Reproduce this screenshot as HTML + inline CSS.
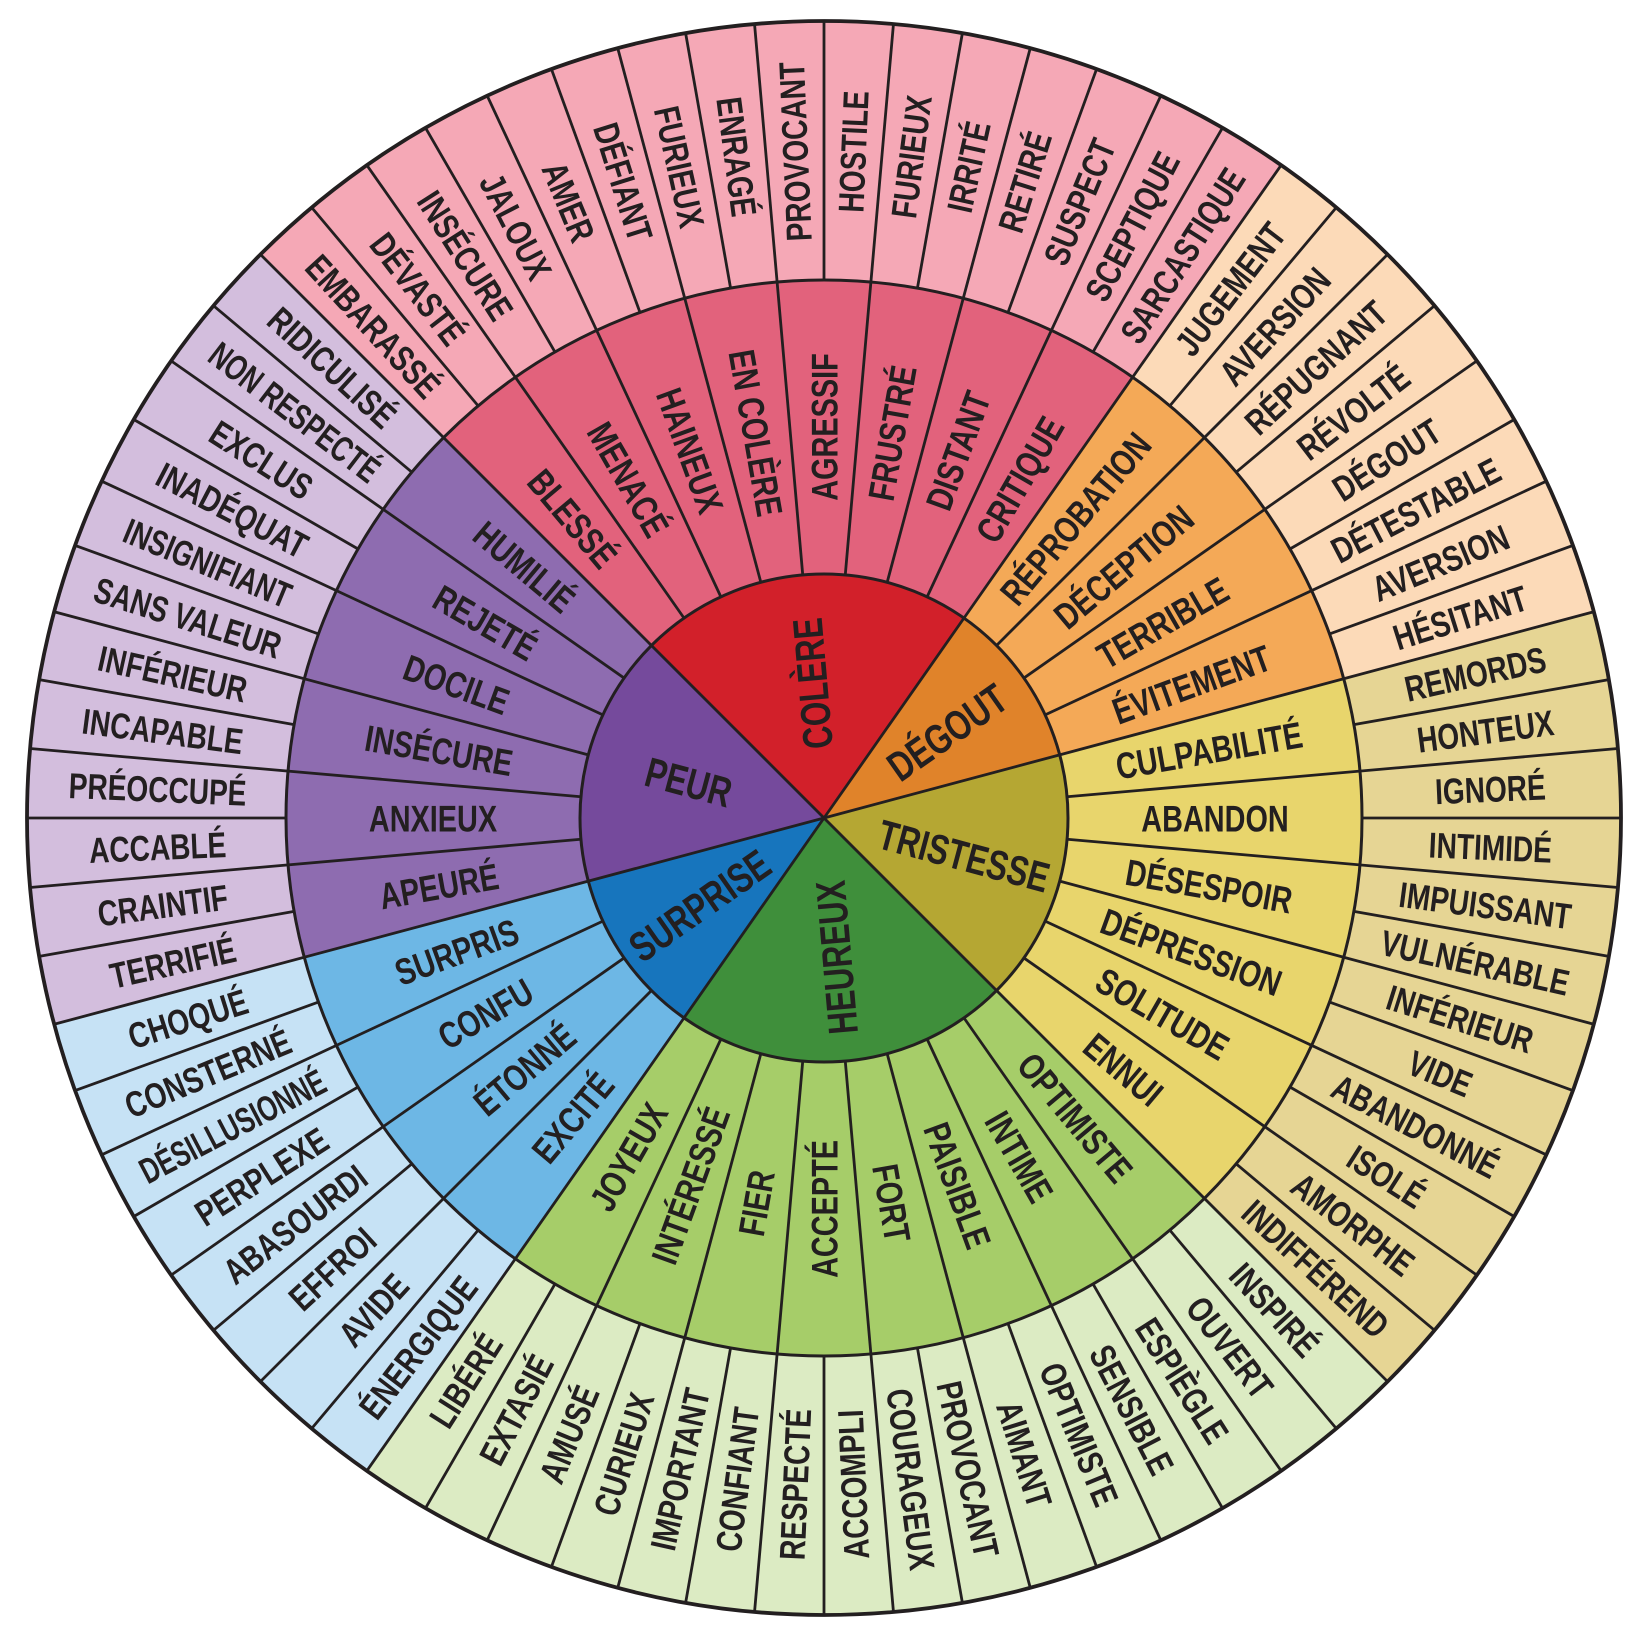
<!DOCTYPE html>
<html><head><meta charset="utf-8"><style>
html,body{margin:0;padding:0;background:#fff;overflow:hidden;width:1651px;height:1645px;}
svg{display:block;}
text{font-family:"Liberation Sans",sans-serif;font-weight:bold;fill:#231f20;text-anchor:middle;}
.o{font-size:36px;}
.m{font-size:37px;}
.i{font-size:42px;}
</style></head><body>
<svg width="1651" height="1645" viewBox="0 0 1651 1645" xmlns="http://www.w3.org/2000/svg">
<g transform="translate(824,818)">
<g fill="none" stroke-width="260">
<circle r="667.5" stroke="#f5a8b6" stroke-dasharray="933 5000" transform="rotate(-135)"/>
<circle r="667.5" stroke="#fcdab8" stroke-dasharray="467 5000" transform="rotate(-55)"/>
<circle r="667.5" stroke="#e6d594" stroke-dasharray="700 5000" transform="rotate(-15)"/>
<circle r="667.5" stroke="#dcebc3" stroke-dasharray="933 5000" transform="rotate(45)"/>
<circle r="667.5" stroke="#c6e2f5" stroke-dasharray="467 5000" transform="rotate(125)"/>
<circle r="667.5" stroke="#d3bedd" stroke-dasharray="700 5000" transform="rotate(165)"/>
</g>
<g fill="none" stroke-width="295">
<circle r="391" stroke="#e2627c" stroke-dasharray="547 3000" transform="rotate(-135)"/>
<circle r="391" stroke="#f4a957" stroke-dasharray="274 3000" transform="rotate(-55)"/>
<circle r="391" stroke="#e8d56c" stroke-dasharray="410 3000" transform="rotate(-15)"/>
<circle r="391" stroke="#a6cd69" stroke-dasharray="547 3000" transform="rotate(45)"/>
<circle r="391" stroke="#6db7e5" stroke-dasharray="274 3000" transform="rotate(125)"/>
<circle r="391" stroke="#8e6cb0" stroke-dasharray="410 3000" transform="rotate(165)"/>
</g>
<g fill="none" stroke-width="245">
<circle r="122" stroke="#d2202a" stroke-dasharray="171 1000" transform="rotate(-135)"/>
<circle r="122" stroke="#e0832a" stroke-dasharray="86 1000" transform="rotate(-55)"/>
<circle r="122" stroke="#b5a733" stroke-dasharray="128 1000" transform="rotate(-15)"/>
<circle r="122" stroke="#3f8f3b" stroke-dasharray="171 1000" transform="rotate(45)"/>
<circle r="122" stroke="#1775bd" stroke-dasharray="86 1000" transform="rotate(125)"/>
<circle r="122" stroke="#754a9c" stroke-dasharray="128 1000" transform="rotate(165)"/>
</g>
<g stroke="#231f20" stroke-width="2.8">
<line x1="0" x2="244" transform="rotate(-135)"/><line x1="0" x2="244" transform="rotate(-55)"/>
<line x1="0" x2="244" transform="rotate(-15)"/><line x1="0" x2="244" transform="rotate(45)"/>
<line x1="0" x2="244" transform="rotate(125)"/><line x1="0" x2="244" transform="rotate(165)"/>
<line x1="244" x2="797" transform="rotate(-135)"/><line x1="244" x2="797" transform="rotate(-125)"/>
<line x1="244" x2="797" transform="rotate(-115)"/><line x1="244" x2="797" transform="rotate(-105)"/>
<line x1="244" x2="797" transform="rotate(-95)"/><line x1="244" x2="797" transform="rotate(-85)"/>
<line x1="244" x2="797" transform="rotate(-75)"/><line x1="244" x2="797" transform="rotate(-65)"/>
<line x1="244" x2="797" transform="rotate(-55)"/><line x1="244" x2="797" transform="rotate(-45)"/>
<line x1="244" x2="797" transform="rotate(-35)"/><line x1="244" x2="797" transform="rotate(-25)"/>
<line x1="244" x2="797" transform="rotate(-15)"/><line x1="244" x2="797" transform="rotate(-5)"/>
<line x1="244" x2="797" transform="rotate(5)"/><line x1="244" x2="797" transform="rotate(15)"/>
<line x1="244" x2="797" transform="rotate(25)"/><line x1="244" x2="797" transform="rotate(35)"/>
<line x1="244" x2="797" transform="rotate(45)"/><line x1="244" x2="797" transform="rotate(55)"/>
<line x1="244" x2="797" transform="rotate(65)"/><line x1="244" x2="797" transform="rotate(75)"/>
<line x1="244" x2="797" transform="rotate(85)"/><line x1="244" x2="797" transform="rotate(95)"/>
<line x1="244" x2="797" transform="rotate(105)"/><line x1="244" x2="797" transform="rotate(115)"/>
<line x1="244" x2="797" transform="rotate(125)"/><line x1="244" x2="797" transform="rotate(135)"/>
<line x1="244" x2="797" transform="rotate(145)"/><line x1="244" x2="797" transform="rotate(155)"/>
<line x1="244" x2="797" transform="rotate(165)"/><line x1="244" x2="797" transform="rotate(175)"/>
<line x1="244" x2="797" transform="rotate(185)"/><line x1="244" x2="797" transform="rotate(195)"/>
<line x1="244" x2="797" transform="rotate(205)"/><line x1="244" x2="797" transform="rotate(215)"/>
<line x1="538" x2="797" transform="rotate(-130)"/><line x1="538" x2="797" transform="rotate(-120)"/>
<line x1="538" x2="797" transform="rotate(-110)"/><line x1="538" x2="797" transform="rotate(-100)"/>
<line x1="538" x2="797" transform="rotate(-90)"/><line x1="538" x2="797" transform="rotate(-80)"/>
<line x1="538" x2="797" transform="rotate(-70)"/><line x1="538" x2="797" transform="rotate(-60)"/>
<line x1="538" x2="797" transform="rotate(-50)"/><line x1="538" x2="797" transform="rotate(-40)"/>
<line x1="538" x2="797" transform="rotate(-30)"/><line x1="538" x2="797" transform="rotate(-20)"/>
<line x1="538" x2="797" transform="rotate(-10)"/><line x1="538" x2="797" transform="rotate(0)"/>
<line x1="538" x2="797" transform="rotate(10)"/><line x1="538" x2="797" transform="rotate(20)"/>
<line x1="538" x2="797" transform="rotate(30)"/><line x1="538" x2="797" transform="rotate(40)"/>
<line x1="538" x2="797" transform="rotate(50)"/><line x1="538" x2="797" transform="rotate(60)"/>
<line x1="538" x2="797" transform="rotate(70)"/><line x1="538" x2="797" transform="rotate(80)"/>
<line x1="538" x2="797" transform="rotate(90)"/><line x1="538" x2="797" transform="rotate(100)"/>
<line x1="538" x2="797" transform="rotate(110)"/><line x1="538" x2="797" transform="rotate(120)"/>
<line x1="538" x2="797" transform="rotate(130)"/><line x1="538" x2="797" transform="rotate(140)"/>
<line x1="538" x2="797" transform="rotate(150)"/><line x1="538" x2="797" transform="rotate(160)"/>
<line x1="538" x2="797" transform="rotate(170)"/><line x1="538" x2="797" transform="rotate(180)"/>
<line x1="538" x2="797" transform="rotate(190)"/><line x1="538" x2="797" transform="rotate(200)"/>
<line x1="538" x2="797" transform="rotate(210)"/><line x1="538" x2="797" transform="rotate(220)"/>
</g>
<g fill="none" stroke="#231f20">
<circle r="244" stroke-width="3"/>
<circle r="538" stroke-width="3"/>
<circle r="797" stroke-width="3.8"/>
</g>
<g class="i">
<text dy=".36em" transform="rotate(-95) translate(135,0) scale(.75,1)">COLÈRE</text>
<text dy=".36em" transform="rotate(-35) translate(150,0) scale(.75,1)">DÉGOUT</text>
<text dy=".36em" transform="rotate(15) translate(145,0) scale(.75,1)">TRISTESSE</text>
<text dy=".36em" transform="rotate(85) translate(140,0) rotate(180) scale(.75,1)">HEUREUX</text>
<text dy=".36em" transform="rotate(145) translate(152,0) rotate(180) scale(.75,1)">SURPRISE</text>
<text dy=".36em" transform="rotate(195) translate(140,0) rotate(180) scale(.75,1)">PEUR</text>
</g>
<g class="m">
<text dy=".36em" transform="rotate(-130) translate(391,0) rotate(180) scale(.78,1)">BLESSÉ</text>
<text dy=".36em" transform="rotate(-120) translate(391,0) rotate(180) scale(.78,1)">MENACÉ</text>
<text dy=".36em" transform="rotate(-110) translate(391,0) rotate(180) scale(.78,1)">HAINEUX</text>
<text dy=".36em" transform="rotate(-100) translate(391,0) rotate(180) scale(.78,1)">EN COLÈRE</text>
<text dy=".36em" transform="rotate(-90) translate(391,0) scale(.78,1)">AGRESSIF</text>
<text dy=".36em" transform="rotate(-80) translate(391,0) scale(.78,1)">FRUSTRÉ</text>
<text dy=".36em" transform="rotate(-70) translate(391,0) scale(.78,1)">DISTANT</text>
<text dy=".36em" transform="rotate(-60) translate(391,0) scale(.78,1)">CRITIQUE</text>
<text dy=".36em" transform="rotate(-50) translate(391,0) scale(.78,1)">RÉPROBATION</text>
<text dy=".36em" transform="rotate(-40) translate(391,0) scale(.78,1)">DÉCEPTION</text>
<text dy=".36em" transform="rotate(-30) translate(391,0) scale(.78,1)">TERRIBLE</text>
<text dy=".36em" transform="rotate(-20) translate(391,0) scale(.78,1)">ÉVITEMENT</text>
<text dy=".36em" transform="rotate(-10) translate(391,0) scale(.78,1)">CULPABILITÉ</text>
<text dy=".36em" transform="rotate(0) translate(391,0) scale(.78,1)">ABANDON</text>
<text dy=".36em" transform="rotate(10) translate(391,0) scale(.78,1)">DÉSESPOIR</text>
<text dy=".36em" transform="rotate(20) translate(391,0) scale(.78,1)">DÉPRESSION</text>
<text dy=".36em" transform="rotate(30) translate(391,0) scale(.78,1)">SOLITUDE</text>
<text dy=".36em" transform="rotate(40) translate(391,0) scale(.78,1)">ENNUI</text>
<text dy=".36em" transform="rotate(50) translate(391,0) scale(.78,1)">OPTIMISTE</text>
<text dy=".36em" transform="rotate(60) translate(391,0) scale(.78,1)">INTIME</text>
<text dy=".36em" transform="rotate(70) translate(391,0) scale(.78,1)">PAISIBLE</text>
<text dy=".36em" transform="rotate(80) translate(391,0) scale(.78,1)">FORT</text>
<text dy=".36em" transform="rotate(90) translate(391,0) rotate(180) scale(.78,1)">ACCEPTÉ</text>
<text dy=".36em" transform="rotate(100) translate(391,0) rotate(180) scale(.78,1)">FIER</text>
<text dy=".36em" transform="rotate(110) translate(391,0) rotate(180) scale(.78,1)">INTÉRESSÉ</text>
<text dy=".36em" transform="rotate(120) translate(391,0) rotate(180) scale(.78,1)">JOYEUX</text>
<text dy=".36em" transform="rotate(130) translate(391,0) rotate(180) scale(.78,1)">EXCITÉ</text>
<text dy=".36em" transform="rotate(140) translate(391,0) rotate(180) scale(.78,1)">ÉTONNÉ</text>
<text dy=".36em" transform="rotate(150) translate(391,0) rotate(180) scale(.78,1)">CONFU</text>
<text dy=".36em" transform="rotate(160) translate(391,0) rotate(180) scale(.78,1)">SURPRIS</text>
<text dy=".36em" transform="rotate(170) translate(391,0) rotate(180) scale(.78,1)">APEURÉ</text>
<text dy=".36em" transform="rotate(180) translate(391,0) rotate(180) scale(.78,1)">ANXIEUX</text>
<text dy=".36em" transform="rotate(190) translate(391,0) rotate(180) scale(.78,1)">INSÉCURE</text>
<text dy=".36em" transform="rotate(200) translate(391,0) rotate(180) scale(.78,1)">DOCILE</text>
<text dy=".36em" transform="rotate(210) translate(391,0) rotate(180) scale(.78,1)">REJETÉ</text>
<text dy=".36em" transform="rotate(220) translate(391,0) rotate(180) scale(.78,1)">HUMILIÉ</text>
</g>
<g class="o">
<text dy=".36em" transform="rotate(-132.5) translate(667,0) rotate(180) scale(.78,1)">EMBARASSÉ</text>
<text dy=".36em" transform="rotate(-127.5) translate(667,0) rotate(180) scale(.78,1)">DÉVASTÉ</text>
<text dy=".36em" transform="rotate(-122.5) translate(667,0) rotate(180) scale(.78,1)">INSÉCURE</text>
<text dy=".36em" transform="rotate(-117.5) translate(667,0) rotate(180) scale(.78,1)">JALOUX</text>
<text dy=".36em" transform="rotate(-112.5) translate(667,0) rotate(180) scale(.78,1)">AMER</text>
<text dy=".36em" transform="rotate(-107.5) translate(667,0) rotate(180) scale(.78,1)">DÉFIANT</text>
<text dy=".36em" transform="rotate(-102.5) translate(667,0) rotate(180) scale(.78,1)">FURIEUX</text>
<text dy=".36em" transform="rotate(-97.5) translate(667,0) rotate(180) scale(.78,1)">ENRAGÉ</text>
<text dy=".36em" transform="rotate(-92.5) translate(667,0) scale(.78,1)">PROVOCANT</text>
<text dy=".36em" transform="rotate(-87.5) translate(667,0) scale(.78,1)">HOSTILE</text>
<text dy=".36em" transform="rotate(-82.5) translate(667,0) scale(.78,1)">FURIEUX</text>
<text dy=".36em" transform="rotate(-77.5) translate(667,0) scale(.78,1)">IRRITÉ</text>
<text dy=".36em" transform="rotate(-72.5) translate(667,0) scale(.78,1)">RETIRÉ</text>
<text dy=".36em" transform="rotate(-67.5) translate(667,0) scale(.78,1)">SUSPECT</text>
<text dy=".36em" transform="rotate(-62.5) translate(667,0) scale(.78,1)">SCEPTIQUE</text>
<text dy=".36em" transform="rotate(-57.5) translate(667,0) scale(.76,1)">SARCASTIQUE</text>
<text dy=".36em" transform="rotate(-52.5) translate(667,0) scale(.78,1)">JUGEMENT</text>
<text dy=".36em" transform="rotate(-47.5) translate(667,0) scale(.78,1)">AVERSION</text>
<text dy=".36em" transform="rotate(-42.5) translate(667,0) scale(.78,1)">RÉPUGNANT</text>
<text dy=".36em" transform="rotate(-37.5) translate(667,0) scale(.78,1)">RÉVOLTÉ</text>
<text dy=".36em" transform="rotate(-32.5) translate(667,0) scale(.78,1)">DÉGOUT</text>
<text dy=".36em" transform="rotate(-27.5) translate(667,0) scale(.78,1)">DÉTESTABLE</text>
<text dy=".36em" transform="rotate(-22.5) translate(667,0) scale(.78,1)">AVERSION</text>
<text dy=".36em" transform="rotate(-17.5) translate(667,0) scale(.78,1)">HÉSITANT</text>
<text dy=".36em" transform="rotate(-12.5) translate(667,0) scale(.78,1)">REMORDS</text>
<text dy=".36em" transform="rotate(-7.5) translate(667,0) scale(.78,1)">HONTEUX</text>
<text dy=".36em" transform="rotate(-2.5) translate(667,0) scale(.78,1)">IGNORÉ</text>
<text dy=".36em" transform="rotate(2.5) translate(667,0) scale(.78,1)">INTIMIDÉ</text>
<text dy=".36em" transform="rotate(7.5) translate(667,0) scale(.78,1)">IMPUISSANT</text>
<text dy=".36em" transform="rotate(12.5) translate(667,0) scale(.78,1)">VULNÉRABLE</text>
<text dy=".36em" transform="rotate(17.5) translate(667,0) scale(.78,1)">INFÉRIEUR</text>
<text dy=".36em" transform="rotate(22.5) translate(667,0) scale(.78,1)">VIDE</text>
<text dy=".36em" transform="rotate(27.5) translate(667,0) scale(.78,1)">ABANDONNÉ</text>
<text dy=".36em" transform="rotate(32.5) translate(667,0) scale(.78,1)">ISOLÉ</text>
<text dy=".36em" transform="rotate(37.5) translate(667,0) scale(.78,1)">AMORPHE</text>
<text dy=".36em" transform="rotate(42.5) translate(667,0) scale(.76,1)">INDIFFÉREND</text>
<text dy=".36em" transform="rotate(47.5) translate(667,0) scale(.78,1)">INSPIRÉ</text>
<text dy=".36em" transform="rotate(52.5) translate(667,0) scale(.78,1)">OUVERT</text>
<text dy=".36em" transform="rotate(57.5) translate(667,0) scale(.78,1)">ESPIÈGLE</text>
<text dy=".36em" transform="rotate(62.5) translate(667,0) scale(.78,1)">SENSIBLE</text>
<text dy=".36em" transform="rotate(67.5) translate(667,0) scale(.78,1)">OPTIMISTE</text>
<text dy=".36em" transform="rotate(72.5) translate(667,0) scale(.78,1)">AIMANT</text>
<text dy=".36em" transform="rotate(77.5) translate(667,0) scale(.78,1)">PROVOCANT</text>
<text dy=".36em" transform="rotate(82.5) translate(667,0) scale(.78,1)">COURAGEUX</text>
<text dy=".36em" transform="rotate(87.5) translate(667,0) rotate(180) scale(.78,1)">ACCOMPLI</text>
<text dy=".36em" transform="rotate(92.5) translate(667,0) rotate(180) scale(.78,1)">RESPECTÉ</text>
<text dy=".36em" transform="rotate(97.5) translate(667,0) rotate(180) scale(.78,1)">CONFIANT</text>
<text dy=".36em" transform="rotate(102.5) translate(667,0) rotate(180) scale(.78,1)">IMPORTANT</text>
<text dy=".36em" transform="rotate(107.5) translate(667,0) rotate(180) scale(.78,1)">CURIEUX</text>
<text dy=".36em" transform="rotate(112.5) translate(667,0) rotate(180) scale(.78,1)">AMUSÉ</text>
<text dy=".36em" transform="rotate(117.5) translate(667,0) rotate(180) scale(.78,1)">EXTASIÉ</text>
<text dy=".36em" transform="rotate(122.5) translate(667,0) rotate(180) scale(.78,1)">LIBÉRÉ</text>
<text dy=".36em" transform="rotate(127.5) translate(667,0) rotate(180) scale(.78,1)">ÉNERGIQUE</text>
<text dy=".36em" transform="rotate(132.5) translate(667,0) rotate(180) scale(.78,1)">AVIDE</text>
<text dy=".36em" transform="rotate(137.5) translate(667,0) rotate(180) scale(.78,1)">EFFROI</text>
<text dy=".36em" transform="rotate(142.5) translate(667,0) rotate(180) scale(.78,1)">ABASOURDI</text>
<text dy=".36em" transform="rotate(147.5) translate(667,0) rotate(180) scale(.78,1)">PERPLEXE</text>
<text dy=".36em" transform="rotate(152.5) translate(667,0) rotate(180) scale(.7,1)">DÉSILLUSIONNÉ</text>
<text dy=".36em" transform="rotate(157.5) translate(667,0) rotate(180) scale(.78,1)">CONSTERNÉ</text>
<text dy=".36em" transform="rotate(162.5) translate(667,0) rotate(180) scale(.78,1)">CHOQUÉ</text>
<text dy=".36em" transform="rotate(167.5) translate(667,0) rotate(180) scale(.78,1)">TERRIFIÉ</text>
<text dy=".36em" transform="rotate(172.5) translate(667,0) rotate(180) scale(.78,1)">CRAINTIF</text>
<text dy=".36em" transform="rotate(177.5) translate(667,0) rotate(180) scale(.78,1)">ACCABLÉ</text>
<text dy=".36em" transform="rotate(182.5) translate(667,0) rotate(180) scale(.78,1)">PRÉOCCUPÉ</text>
<text dy=".36em" transform="rotate(187.5) translate(667,0) rotate(180) scale(.78,1)">INCAPABLE</text>
<text dy=".36em" transform="rotate(192.5) translate(667,0) rotate(180) scale(.78,1)">INFÉRIEUR</text>
<text dy=".36em" transform="rotate(197.5) translate(667,0) rotate(180) scale(.76,1)">SANS VALEUR</text>
<text dy=".36em" transform="rotate(202.5) translate(667,0) rotate(180) scale(.74,1)">INSIGNIFIANT</text>
<text dy=".36em" transform="rotate(207.5) translate(667,0) rotate(180) scale(.78,1)">INADÉQUAT</text>
<text dy=".36em" transform="rotate(212.5) translate(667,0) rotate(180) scale(.78,1)">EXCLUS</text>
<text dy=".36em" transform="rotate(217.5) translate(667,0) rotate(180) scale(.72,1)">NON RESPECTÉ</text>
<text dy=".36em" transform="rotate(222.5) translate(667,0) rotate(180) scale(.78,1)">RIDICULISÉ</text>
</g>
</g>
</svg>
</body></html>
